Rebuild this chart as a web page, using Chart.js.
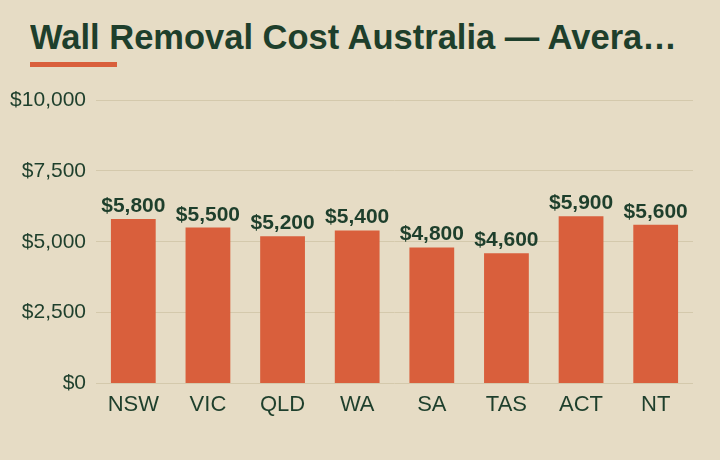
<!DOCTYPE html>
<html>
<head>
<meta charset="utf-8">
<script src="https://cdn.jsdelivr.net/npm/chart.js@4"></script>
<style>
  html, body { margin: 0; padding: 0; }
  body {
    width: 720px; height: 460px; position: relative; overflow: hidden;
    background: #e6dcc5;
    font-family: "Liberation Sans", Arial, sans-serif;
  }
  .title {
    position: absolute; left: 30px; top: 20px; width: 660px;
    font-size: 34.5px; line-height: 34px; font-weight: bold; color: #1e3f2c;
    white-space: nowrap; overflow: hidden; text-overflow: ellipsis;
  }
  .rule {
    position: absolute; left: 30px; top: 62px; width: 87px; height: 5px;
    background: #d95f3c;
  }
  .wrap { position: absolute; left: 0; top: 0; width: 720px; height: 460px; }
</style>
</head>
<body>
<div class="title">Wall Removal Cost Australia — Average Cost by State</div>
<div class="rule"></div>
<div class="wrap"><canvas id="chart"></canvas></div>
<script>
// chart data
const states = ["NSW", "VIC", "QLD", "WA", "SA", "TAS", "ACT", "NT"];
const avgCost = [5800, 5500, 5200, 5400, 4800, 4600, 5900, 5600];
const yTicks = [0, 2500, 5000, 7500, 10000];

const green = "#1e3f2c";
const orange = "#d95f3c";

const money = (v) => "$" + Number(v).toLocaleString("en-US");

// draw the value above each bar
const valueLabels = {
  id: "valueLabels",
  afterDatasetsDraw(chart) {
    const ctx = chart.ctx;
    const meta = chart.getDatasetMeta(0);
    ctx.save();
    ctx.font = "bold 21px 'Liberation Sans', Arial, sans-serif";
    ctx.fillStyle = green;
    ctx.textAlign = "center";
    ctx.textBaseline = "alphabetic";
    meta.data.forEach((bar, i) => {
      ctx.fillText(money(avgCost[i]), bar.x, bar.y - 7);
    });
    ctx.restore();
  },
};

new Chart(document.getElementById("chart"), {
  type: "bar",
  data: {
    labels: states,
    datasets: [
      {
        data: avgCost,
        backgroundColor: orange,
        borderWidth: 0,
        barPercentage: 0.6,
        categoryPercentage: 1,
      },
    ],
  },
  options: {
    responsive: true,
    maintainAspectRatio: false,
    animation: false,
    layout: { padding: { top: 100, right: 27, bottom: 42, left: 0 } },
    plugins: {
      legend: { display: false },
      tooltip: { enabled: false },
    },
    scales: {
      x: {
        grid: { display: false },
        border: { display: false },
        ticks: {
          color: green,
          padding: 0,
          font: { family: "'Liberation Sans', Arial, sans-serif", size: 22 },
        },
      },
      y: {
        min: 0,
        max: 10000,
        afterBuildTicks: (scale) => {
          scale.ticks = yTicks.map((v) => ({ value: v }));
        },
        afterFit: (scale) => {
          scale.width = 96;
        },
        grid: { color: "#d4c9ac", drawTicks: false },
        border: { display: false },
        ticks: {
          color: green,
          padding: 10,
          font: { family: "'Liberation Sans', Arial, sans-serif", size: 21 },
          callback: (v) => money(v),
        },
      },
    },
  },
  plugins: [valueLabels],
});
</script>
</body>
</html>
